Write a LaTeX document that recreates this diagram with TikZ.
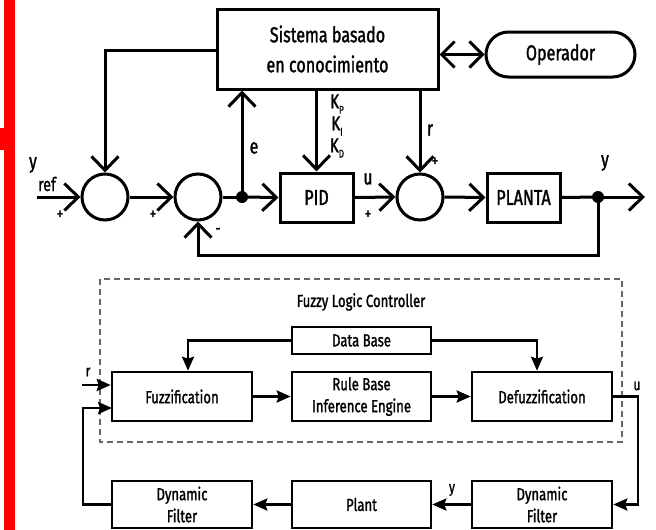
\documentclass[tikz,border=0pt]{standalone}
\usepackage{fontspec}
\setmainfont{Fira Sans}[FakeStretch=0.75,FakeBold=1.4]
\usetikzlibrary{arrows.meta,calc}
\tikzset{
  blk/.style={draw,line width=3pt,rectangle,inner sep=0pt,align=center},
  sumc/.style={draw,line width=3pt,circle,minimum size=46pt,inner sep=0pt},
  junc/.style={fill,circle,minimum size=12pt,inner sep=0pt},
  sig/.style={line width=3pt,-{Straight Barb[length=14pt,width=27pt,line width=3pt]}},
  wire/.style={line width=3pt},
  fblk/.style={draw,line width=2.6pt,rectangle,inner sep=0pt,align=center,
    minimum width=140pt,font=\fontsize{17.5}{22}\selectfont},
  farr/.style={line width=2.6pt,-{Stealth[length=14pt,width=12pt,inset=2pt]}},
  lbl/.style={inner sep=0pt,font=\fontsize{21}{24}\selectfont},
  sgn/.style={inner sep=0pt,font=\fontsize{17}{18}\selectfont},
}
\begin{document}
\begin{tikzpicture}[x=1pt,y=-1pt]
\useasboundingbox (0,0) rectangle (656,530);
% red margin bar
\fill[red] (4,0) rectangle (15,530);
\fill[red] (0,128) rectangle (15,150);

% ---- knowledge-based supervisory loop ----
\node[blk,minimum width=221pt,minimum height=80pt,
  font=\fontsize{21.5}{30}\selectfont] (kb) at (327.5,49)
  {Sistema basado\\en conocimiento};
\node[draw,line width=3pt,rounded corners=22.5pt,minimum width=149pt,
  minimum height=45pt,inner sep=0pt,font=\fontsize{21.5}{24}\selectfont]
  (op) at (560.5,54.5) {Operador};
\coordinate (yin) at (37,197);
\node[sumc] (c1) at (105,197) {};
\node[sumc] (c2) at (198,197) {};
\node[junc] (d1) at (242,197) {};
\node[blk,minimum width=73pt,minimum height=49pt,
  font=\fontsize{21.5}{24}\selectfont] (pid) at (316.5,197.5) {PID};
\node[sumc] (c3) at (420,197) {};
\node[blk,minimum width=73pt,minimum height=49pt,
  font=\fontsize{21.5}{24}\selectfont] (pl) at (523.5,197.5) {PLANTA};
\node[junc] (d2) at (598,197) {};
\coordinate (yout) at (645,197);

\draw[sig] (yin) -- (c1.west);
\draw[sig] (c1.east) -- (c2.west);
\draw[wire] (c2.east) -- (d1.center);
\draw[sig] (d1.center) -- (pid.west);
\draw[sig] (pid.east) -- (c3.west);
\draw[sig] (c3.east) -- (pl.west);
\draw[wire] (pl.east) -- (d2.center);
\draw[sig] (d2.center) -- ++(0,58) -| (c2.south);
\draw[sig] (d2.center) -- (yout);
\draw[sig] (d1.center) -- (d1.center |- kb.south);
\draw[sig] (kb.west |- 0,50) -| (c1.north);
\draw[sig] (kb.south -| pid.north) -- (pid.north);
\draw[sig] (kb.south -| c3.north) -- (c3.north);
\draw[line width=3pt,{Straight Barb[length=13pt,width=26pt,line width=3pt]}-{Straight Barb[length=13pt,width=26pt,line width=3pt]}]
  (kb.east |- op.west) -- (op.west);

% signal labels
\node[lbl] (ly) at (33,165) {y};
\node[lbl,font=\fontsize{19}{20}\selectfont] (lref) at (47,184) {ref};
\node[sgn] (p1) at (60,215) {+};
\node[sgn] (p2) at (153,215) {+};
\node[sgn] (m2) at (218,231) {-};
\node[lbl] (le) at (254,148) {e};
\node[lbl] (lu) at (368,179) {u};
\node[sgn] (p3) at (368,215) {+};
\node[lbl] (lr) at (430,130) {r};
\node[sgn] (p4) at (435,162) {+};
\node[lbl] (lyo) at (605,163) {y};
\node[lbl,font=\fontsize{20}{22}\selectfont] (kp) at (337,104) {K\raisebox{-0.5ex}{\fontsize{11}{12}\selectfont P}};
\node[lbl,font=\fontsize{20}{22}\selectfont] (ki) at (337,126) {K\raisebox{-0.5ex}{\fontsize{11}{12}\selectfont I}};
\node[lbl,font=\fontsize{20}{22}\selectfont] (kd) at (337,148) {K\raisebox{-0.5ex}{\fontsize{11}{12}\selectfont D}};

% ---- fuzzy logic controller ----
\draw[line width=1.4pt,gray!80!black,dash pattern=on 6pt off 4pt]
  (100,279) rectangle (622,442);
\node[inner sep=0pt,font=\fontsize{17.5}{18}\selectfont] (flc) at (361,302)
  {Fuzzy Logic Controller};
\node[fblk,minimum width=139pt,minimum height=27pt] (db) at (361.5,340.5) {Data Base};
\node[fblk,minimum height=49pt] (fz) at (182,396.5) {Fuzzification};
\node[fblk,minimum width=139pt,minimum height=49pt] (rb) at (361.5,396.5)
  {Rule Base\\Inference Engine};
\node[fblk,minimum height=49pt] (dz) at (542,396.5) {Defuzzification};
\node[fblk,minimum height=47pt] (df1) at (182,504.5) {Dynamic\\Filter};
\node[fblk,minimum width=139pt,minimum height=47pt] (plt) at (361.5,504.5) {Plant};
\node[fblk,minimum height=47pt] (df2) at (542,504.5) {Dynamic\\Filter};
\coordinate (rin) at (82,385);

\draw[farr] (db.west) -| ($(fz.north)+(6,0)$);
\draw[farr] (db.east) -| ($(dz.north)+(-5,0)$);
\draw[farr] (fz.east) -- (rb.west);
\draw[farr] (rb.east) -- (dz.west);
\draw[farr] (rin) -- (rin -| fz.west);
\draw[farr] (df1.west) -| (83,408) -- (112,408);
\draw[farr] (dz.east) -- (638,396.5) |- (df2.east);
\draw[farr] (df2.west) -- (plt.east);
\draw[farr] (plt.west) -- (df1.east);

\node[inner sep=0pt,font=\fontsize{16}{18}\selectfont] (lr2) at (88,372) {r};
\node[inner sep=0pt,font=\fontsize{16}{18}\selectfont] (lu2) at (637,386) {u};
\node[inner sep=0pt,font=\fontsize{16}{18}\selectfont] (ly2) at (452,490) {y};
\end{tikzpicture}
\end{document}
